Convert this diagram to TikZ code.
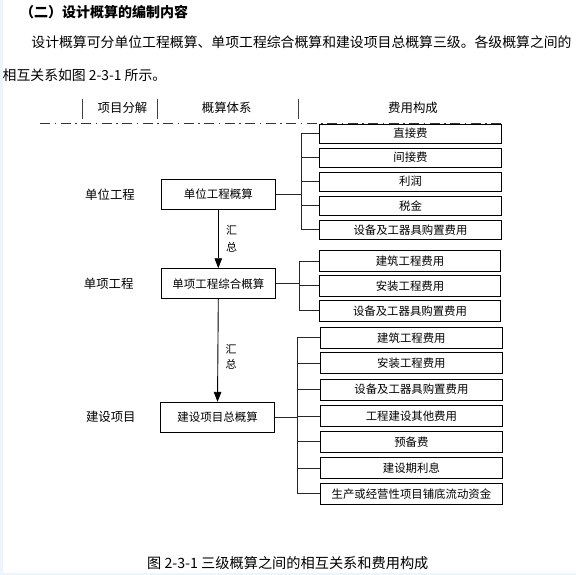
\documentclass[tikz,border=0pt]{standalone}
\usepackage{fontspec}
\setmainfont{Noto Sans CJK SC}
\usetikzlibrary{arrows.meta}
\definecolor{edgeblue}{HTML}{EEF4FC}
\begin{document}
\begin{tikzpicture}[x=1pt,y=-1pt,
  lvlbox/.style={draw=black,line width=0.9pt,inner sep=0pt,minimum width=114pt,minimum height=30pt,font=\fontsize{11.5}{12}\selectfont},
  costbox/.style={draw=black,line width=0.9pt,inner sep=0pt,minimum width=182pt,minimum height=21pt,font=\fontsize{11.4}{12}\selectfont},
  costboxs/.style={costbox,minimum height=19pt},
  brk/.style={draw=black!85,line width=0.9pt},
  arr/.style={draw=black,line width=0.9pt,-{Triangle[length=10pt,width=7.5pt]}},
  lbl/.style={inner sep=0pt,font=\fontsize{12.4}{13}\selectfont},
  sumlbl/.style={inner sep=0pt,font=\fontsize{11}{11}\selectfont},
  hdr/.style={inner sep=0pt,font=\fontsize{12.4}{13}\selectfont},
  hbar/.style={draw=black!75,line width=0.8pt},
  txt/.style={inner sep=0pt,font=\fontsize{13.85}{15}\selectfont}
]
% background and page edges
\fill[white] (0,0) rectangle (576,575);
\useasboundingbox (0,0) rectangle (576,575);
\fill[edgeblue] (0,0) rectangle (3.3,575);
\fill[edgeblue] (0,572.7) rectangle (576,575);

% heading and paragraph
\node[txt,anchor=west,font=\fontsize{14}{15}\selectfont\bfseries] (title) at (20,12.3) {（二）设计概算的编制内容};
\node[txt,anchor=west] (para1) at (31.2,42.3) {设计概算可分单位工程概算、单项工程综合概算和建设项目总概算三级。各级概算之间的};
\node[txt,anchor=west] (para2) at (2.5,75) {相互关系如图 2-3-1 所示。};

% header row
\node[hdr] (h1) at (122.5,107.7) {项目分解};
\node[hdr] (h2) at (226.7,107.7) {概算体系};
\node[hdr] (h3) at (413,107.7) {费用构成};
\coordinate (bar1t) at (82.7,98.7);  \coordinate (bar1b) at (82.7,119.3);
\coordinate (bar2t) at (157.7,98.7); \coordinate (bar2b) at (157.7,119.3);
\coordinate (bar3t) at (298.7,98.7); \coordinate (bar3b) at (298.7,119.3);
\draw[hbar] (bar1t) -- (bar1b);
\draw[hbar] (bar2t) -- (bar2b);
\draw[hbar] (bar3t) -- (bar3b);
\coordinate (dl) at (40,123.7);
\coordinate (dr) at (503,123.7);
\draw[black!80,line width=1.6pt,dash pattern=on 10pt off 4.5pt on 1.5pt off 4.5pt] (dl) -- (dr);

% level labels
\node[lbl] (l1) at (110,194.3) {单位工程};
\node[lbl] (l2) at (108.7,283.7) {单项工程};
\node[lbl] (l3) at (110.8,417.3) {建设项目};

% level boxes
\node[lvlbox] (b1) at (218.3,194.3) {单位工程概算};
\node[lvlbox] (b2) at (218.3,283.7) {单项工程综合概算};
\node[lvlbox] (b3) at (217.5,417.3) {建设项目总概算};

\draw[arr] (b1.south) -- (b2.north);
\draw[arr] (b2.south) -- (b3.north);
\node[sumlbl] (s1a) at (231.7,230) {汇};
\node[sumlbl] (s1b) at (231.7,247.3) {总};
\node[sumlbl] (s2a) at (231.2,349.3) {汇};
\node[sumlbl] (s2b) at (231.2,364.5) {总};

% group 1
\node[costboxs,minimum width=182.4pt] (c11) at (410.5,133.5) {直接费};
\node[costboxs,minimum width=182.4pt] (c12) at (410.5,157.55) {间接费};
\node[costboxs,minimum width=182.4pt] (c13) at (410.5,181.6) {利润};
\node[costboxs,minimum width=182.4pt] (c14) at (410.5,205.65) {税金};
\node[costboxs,minimum width=182.4pt] (c15) at (410.5,229.7) {设备及工器具购置费用};
\coordinate (g1t) at (301.7,133.5);
\coordinate (g1b) at (301.7,229.7);
\draw[brk] (g1t) -- (g1b);
\foreach \c in {c11,c12,c13,c14,c15} \draw[brk] (\c.west) -- (\c.west -| g1t);
\draw[brk] (b1.east) -- (b1.east -| g1t);

% group 2
\node[costbox,minimum width=181.4pt] (c21) at (410,261) {建筑工程费用};
\node[costbox,minimum width=181.4pt] (c22) at (410,285.8) {安装工程费用};
\node[costbox,minimum width=181.4pt] (c23) at (410,310.7) {设备及工器具购置费用};
\coordinate (g2t) at (299.3,261);
\coordinate (g2b) at (299.3,310.7);
\draw[brk] (g2t) -- (g2b);
\foreach \c in {c21,c22,c23} \draw[brk] (\c.west) -- (\c.west -| g2t);
\draw[brk] (b2.east) -- (b2.east -| g2t);

% group 3
\node[costbox,minimum width=181.8pt] (c31) at (411.4,337.8) {建筑工程费用};
\node[costbox,minimum width=181.8pt] (c32) at (411.4,363) {安装工程费用};
\node[costbox,minimum width=181.8pt] (c33) at (411.4,389.65) {设备及工器具购置费用};
\node[costbox,minimum width=181.8pt] (c34) at (411.4,416.35) {工程建设其他费用};
\node[costbox,minimum width=181.8pt] (c35) at (411.4,441.85) {预备费};
\node[costbox,minimum width=181.8pt] (c36) at (411.4,468.15) {建设期利息};
\node[costbox,minimum width=181.8pt] (c37) at (411.4,493.8) {生产或经营性项目铺底流动资金};
\coordinate (g3t) at (297.3,337.8);
\coordinate (g3b) at (297.3,493.8);
\draw[brk] (g3t) -- (g3b);
\foreach \c in {c31,c32,c33,c34,c35,c36,c37} \draw[brk] (\c.west) -- (\c.west -| g3t);
\draw[brk] (b3.east) -- (b3.east -| g3t);

% caption
\node[txt,font=\fontsize{14.2}{15}\selectfont] (cap) at (287.8,562.7) {图 2-3-1 三级概算之间的相互关系和费用构成};
\end{tikzpicture}
\end{document}
